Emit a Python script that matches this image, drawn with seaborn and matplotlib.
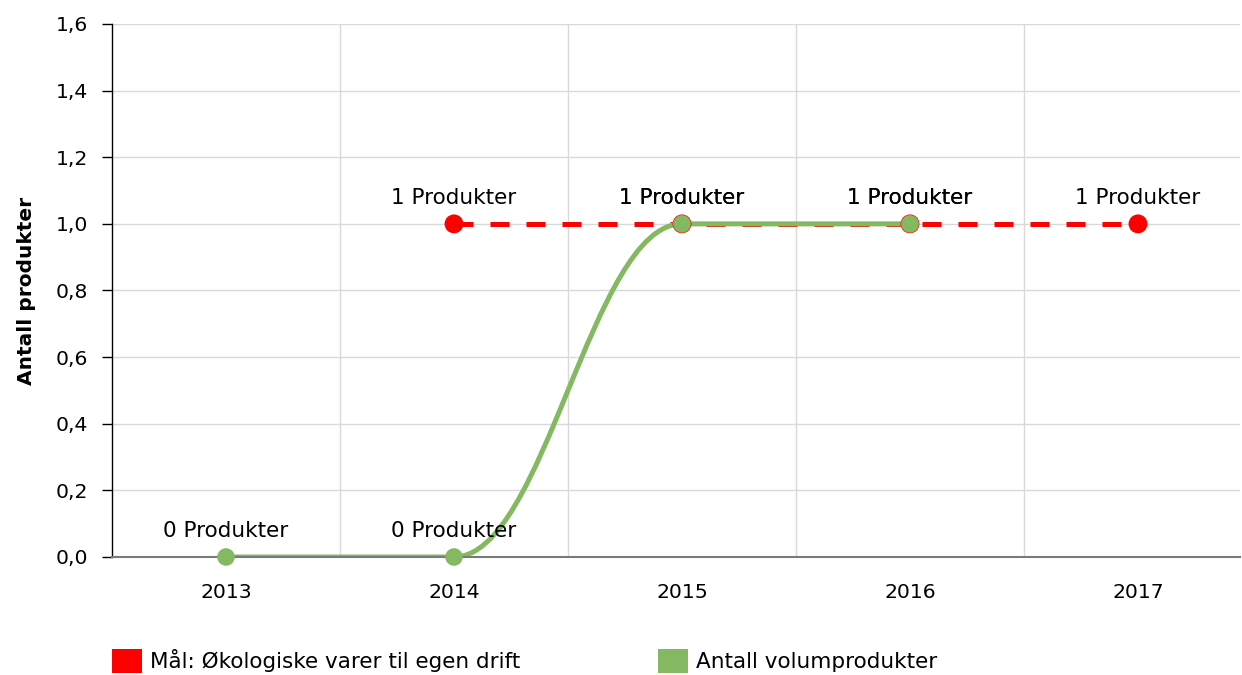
import matplotlib
matplotlib.use("Agg")
import matplotlib.pyplot as plt
import seaborn as sns
import pandas as pd
from matplotlib.path import Path
from matplotlib.patches import PathPatch, Patch

# ---------------- data ----------------
years = [2013, 2014, 2015, 2016, 2017]
goal_years = [2014, 2015, 2016, 2017]
goal_values = [1, 1, 1, 1]
volume_years = [2013, 2014, 2015, 2016]
volume_values = [0, 0, 1, 1]
goal_name = "Mål: Økologiske varer til egen drift"
volume_name = "Antall volumprodukter"
y_ticks = [0.0, 0.2, 0.4, 0.6, 0.8, 1.0, 1.2, 1.4, 1.6]
y_label = "Antall produkter"
unit = "Produkter"

RED = "#ff0000"
GREEN = "#84b962"

sns.set_theme(style="white")
plt.rcParams["font.family"] = ["DejaVu Sans"]
plt.rcParams["text.color"] = "black"

W, H = 1242, 675
fig = plt.figure(figsize=(W / 100, H / 100), dpi=100)
ax = fig.add_axes([112 / W, 1 - 557 / H, (1240 - 112) / W, (557 - 24) / H])


def spline_path(xs, ys, smoothing=1.5):
    """Highcharts-style smooth spline rendered as cubic Bezier path."""
    n = len(xs)
    ctrl = []
    for i in range(n):
        x, y = xs[i], ys[i]
        if 0 < i < n - 1:
            lx, ly = xs[i - 1], ys[i - 1]
            nx, ny = xs[i + 1], ys[i + 1]
            d = smoothing + 1
            lcx, lcy = (smoothing * x + lx) / d, (smoothing * y + ly) / d
            rcx, rcy = (smoothing * x + nx) / d, (smoothing * y + ny) / d
            corr = ((rcy - lcy) * (rcx - x)) / (rcx - lcx) + y - rcy
            lcy += corr
            rcy += corr
            if lcy > ly and lcy > y:
                lcy = max(ly, y); rcy = 2 * y - lcy
            elif lcy < ly and lcy < y:
                lcy = min(ly, y); rcy = 2 * y - lcy
            if rcy > ny and rcy > y:
                rcy = max(ny, y); lcy = 2 * y - rcy
            elif rcy < ny and rcy < y:
                rcy = min(ny, y); lcy = 2 * y - rcy
            ctrl.append(((lcx, lcy), (rcx, rcy)))
        else:
            ctrl.append(((x, y), (x, y)))
    verts = [(xs[0], ys[0])]
    codes = [Path.MOVETO]
    for i in range(1, n):
        verts += [ctrl[i - 1][1], ctrl[i][0], (xs[i], ys[i])]
        codes += [Path.CURVE4] * 3
    return Path(verts, codes)


goal_df = pd.DataFrame({"year": goal_years, "value": goal_values})
vol_df = pd.DataFrame({"year": volume_years, "value": volume_values})

# red dashed goal line
sns.lineplot(data=goal_df, x="year", y="value", ax=ax, color=RED, linewidth=3.6,
             linestyle=(0, (3.8, 3.4)), zorder=3, legend=False)
sns.scatterplot(data=goal_df, x="year", y="value", ax=ax, color=RED, s=185,
                edgecolor="none", zorder=4, clip_on=False, legend=False)

# green spline
patch = PathPatch(spline_path([float(v) for v in volume_years],
                              [float(v) for v in volume_values]),
                  facecolor="none", edgecolor=GREEN, linewidth=3.6,
                  capstyle="round", joinstyle="round", zorder=3.5)
ax.add_patch(patch)
sns.scatterplot(data=vol_df, x="year", y="value", ax=ax, color=GREEN, s=160,
                edgecolor="none", zorder=6, clip_on=False, legend=False)

# data labels
FS_TICK = 14.7
FS_LAB = 15.5
for xs_, ys_ in [(goal_years, goal_values), (volume_years, volume_values)]:
    for xv, yv in zip(xs_, ys_):
        ax.annotate(f"{yv} {unit}", (xv, yv), xytext=(0, 14.2), textcoords="offset points",
                    ha="center", va="baseline", fontsize=FS_LAB, color="black", zorder=7)

# axes styling
ax.set_xlim(2012.5, 2012.5 + 1128 / 228)
ax.set_ylim(0, 1.6)
ax.set_xticks(years)
ax.set_xticklabels([str(y) for y in years])
ax.set_xticks([y + 0.5 for y in years[:-1]], minor=True)
ax.set_yticks(y_ticks)
ax.set_yticklabels([f"{v:.1f}".replace(".", ",") for v in y_ticks])
ax.grid(axis="y", which="major", color="#d9d9d9", linewidth=1.0)
ax.grid(axis="x", which="minor", color="#d9d9d9", linewidth=1.0)
ax.grid(axis="x", which="major", visible=False)
ax.set_axisbelow(True)
ax.tick_params(axis="y", which="major", length=7.2, width=1, color="black",
               labelsize=FS_TICK, pad=9.8, left=True, labelcolor="black")
ax.tick_params(axis="x", which="both", length=0, labelsize=FS_TICK, pad=18.5, labelcolor="black")
for s in ["top", "right"]:
    ax.spines[s].set_visible(False)
ax.spines["left"].set_color("black")
ax.spines["left"].set_linewidth(1.0)
ax.spines["bottom"].set_color("#7a7a7a")
ax.spines["bottom"].set_linewidth(1.5)
ax.spines["bottom"].set_zorder(5.5)
ax.set_xlabel("")
ax.set_ylabel(y_label, fontsize=14.5, fontweight="bold", color="black", labelpad=14)

# legend
h1 = [Patch(facecolor=RED, edgecolor="none")]
h2 = [Patch(facecolor=GREEN, edgecolor="none")]
for handles, label, x0 in [(h1, goal_name, 112), (h2, volume_name, 658)]:
    fig.legend(handles, [label], loc="center left", bbox_to_anchor=(x0 / W, 1 - 661 / H),
               frameon=False, fontsize=FS_LAB, handlelength=1.4, handleheight=1.35,
               handletextpad=0.38, borderpad=0, borderaxespad=0, labelcolor="black")

fig.savefig("out.png", dpi=100)
